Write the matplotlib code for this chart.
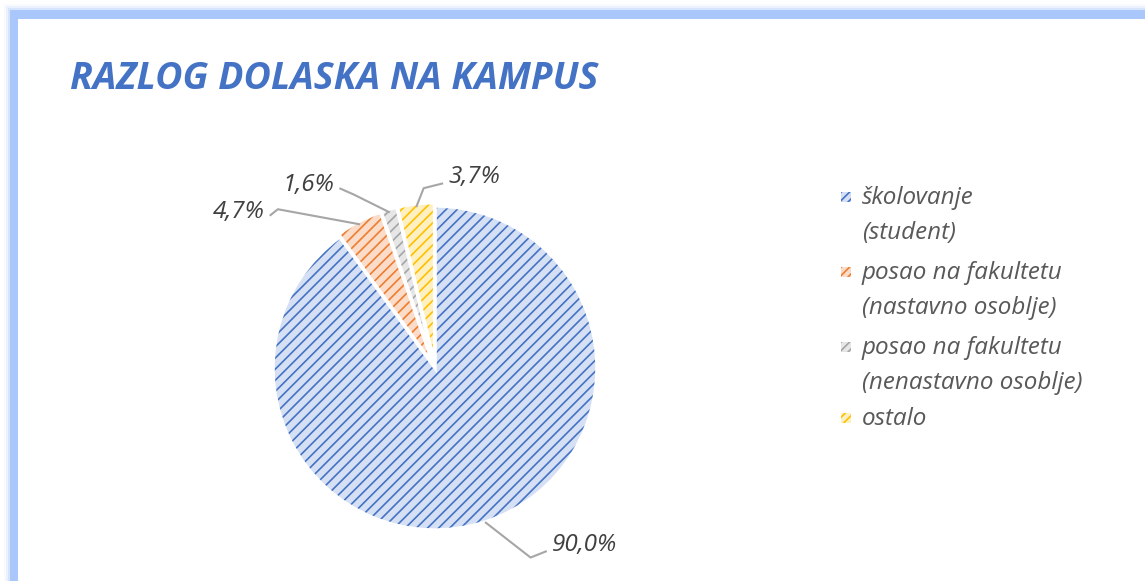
import matplotlib.pyplot as plt
import matplotlib.patches as mpatches
from matplotlib import font_manager as fm
import numpy as np
import os

# podaci
kategorije = ['školovanje\n(student)', 'posao na fakultetu\n(nastavno osoblje)',
              'posao na fakultetu\n(nenastavno osoblje)', 'ostalo']
postoci = [90.0, 4.7, 1.6, 3.7]
oznake = ['90,0%', '4,7%', '1,6%', '3,7%']
boje = ['#4472C4', '#ED7D31', '#A5A5A5', '#FFC000']
svijetle = ['#d6e0f4', '#fbdcc8', '#e6e6e6', '#fff0c2']


def font(ime, size):
    for f in fm.fontManager.ttflist:
        if os.path.basename(f.fname) == ime:
            return fm.FontProperties(fname=f.fname, size=size)
    return fm.FontProperties(family='DejaVu Sans', style='italic', size=size)


plt.rcParams['hatch.linewidth'] = 1.2

W, H = 1145, 581
fig = plt.figure(figsize=(W / 100, H / 100), dpi=100)

# okvir sa sjajem
def okvir(px, lw, boja, alpha, z):
    fig.patches.append(mpatches.Rectangle((px / W, -0.1), 1.2, 1 - px / H + 0.1,
                                          transform=fig.transFigure, fill=False,
                                          edgecolor=boja, linewidth=lw * 0.72,
                                          alpha=alpha, zorder=z))

for lw, a in [(20, 0.08), (16, 0.15), (13, 0.3)]:
    okvir(13.5, lw, '#a9c7fb', a, 0)
okvir(13.5, 9, '#a9c7fb', 1, 0.5)
fig.patches.append(mpatches.Rectangle((18 / W, -0.1), 1.2, 1 - 19 / H + 0.1,
                                      transform=fig.transFigure, facecolor='white',
                                      edgecolor='none', zorder=1))

# naslov
fig.text(70 / W, 1 - 79 / H, 'RAZLOG DOLASKA NA KAMPUS',
         fontproperties=font('OpenSans-BoldItalic.ttf', 27),
         color='#4472C4', va='center', ha='left', zorder=5)

# pita
R = 162
cx, cy = 435, 368
lim = 1.5
ax = fig.add_axes([(cx - R * lim) / W, (H - cy - R * lim) / H, 2 * R * lim / W, 2 * R * lim / H])
ax.set_zorder(3)

explode = [0, 0.02, 0.02, 0.02]
klinovi, _ = ax.pie(postoci, startangle=90, counterclock=False, explode=explode,
                    colors=svijetle, radius=1)
for k, b in zip(klinovi, boje):
    k.set_hatch('///')
    k.set_edgecolor(b)
    k.set_linewidth(0)
okviri, _ = ax.pie(postoci, startangle=90, counterclock=False, explode=explode,
                   colors=['none'] * 4, radius=1,
                   wedgeprops=dict(edgecolor='white', linewidth=2.5))
ax.set_xlim(-lim, lim)
ax.set_ylim(-lim, lim)
ax.set_aspect('equal')
ax.axis('off')

# oznake s linijama
tekst_poz = [(0.72, -1.09), (-1.05, 0.96), (-0.62, 1.13), (0.08, 1.18)]
koljeno = [(-0.10, -0.04), (0.05, 0.04), (0.09, -0.04), (-0.12, -0.03)]
f_oznaka = font('OpenSans-Italic.ttf', 17.5)
for k, ozn, (tx, ty), (kx, ky) in zip(klinovi, oznake, tekst_poz, koljeno):
    ang = np.deg2rad((k.theta1 + k.theta2) / 2)
    r = 1.0
    x0, y0 = r * np.cos(ang), r * np.sin(ang)
    if tx > x0:
        kraj = (tx - 0.03, ty - 0.04)
        ha = 'left'
    else:
        kraj = (tx + 0.03, ty - 0.02)
        ha = 'right'
    lakat = (kraj[0] + kx, kraj[1] + ky)
    ax.plot([x0, lakat[0], kraj[0]], [y0, lakat[1], kraj[1]], color='#a6a6a6',
            linewidth=1.5, solid_capstyle='butt')
    ax.text(tx, ty, ozn, fontproperties=f_oznaka, color='#404040', ha=ha, va='center')

# legenda
leg_y = [197, 272, 347, 418]
f_leg = font('OpenSans-Italic.ttf', 17.5)
for kat, y, b, s in zip(kategorije, leg_y, boje, svijetle):
    fig.patches.append(mpatches.Rectangle((841 / W, 1 - (y + 5) / H), 10 / W, 10 / H,
                                          transform=fig.transFigure, facecolor=s,
                                          edgecolor=b, hatch='////', linewidth=0,
                                          zorder=4))
    fig.text(862 / W, 1 - (y - 11) / H, kat, fontproperties=f_leg,
             color='#595959', va='top', ha='left', linespacing=1.6, zorder=5)

fig.savefig('out.png', dpi=100)
